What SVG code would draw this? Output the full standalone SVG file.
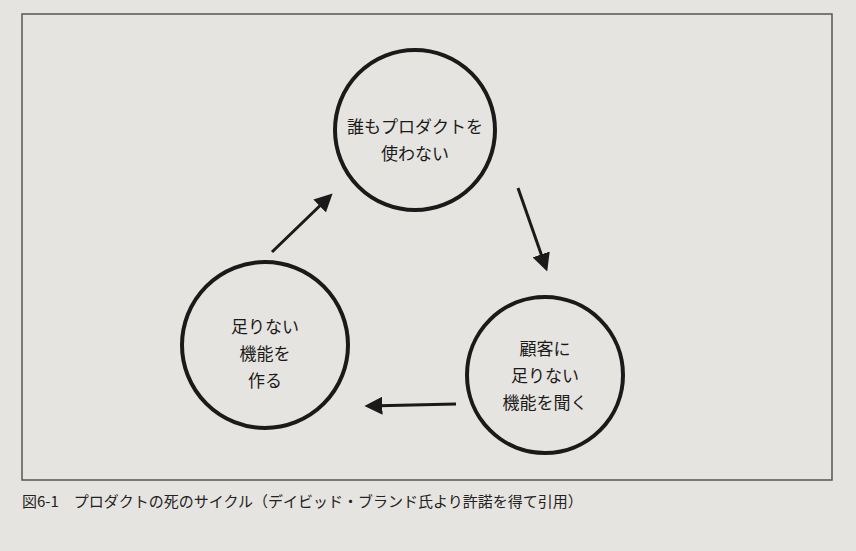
<svg xmlns="http://www.w3.org/2000/svg" width="856" height="551" viewBox="0 0 856 551">
<style>
.c{fill:none;stroke:#1a1a1a;stroke-width:4}
.t{font-family:"Noto Sans CJK JP",sans-serif;font-size:17px;fill:#1a1a1a;text-anchor:middle}
.a{stroke:#1a1a1a;stroke-width:3;fill:none;marker-end:url(#m)}
</style>
<defs><marker id="m" viewBox="0 0 10 10" refX="8" refY="5" markerWidth="6" markerHeight="6" orient="auto"><path d="M0,0L10,5L0,10z" fill="#1a1a1a"/></marker></defs>
<rect width="856" height="551" fill="#e6e4e0"/>
<rect x="22" y="14" width="810" height="466" fill="none" stroke="#555" stroke-width="1.5"/>
<g id="top"><circle class="c" cx="415" cy="130" r="80"/><text class="t" x="415" y="133">誰もプロダクトを</text><text class="t" x="415" y="160">使わない</text></g>
<g id="right"><circle class="c" cx="545" cy="375" r="78"/><text class="t" x="545" y="355">顧客に</text><text class="t" x="545" y="382">足りない</text><text class="t" x="545" y="409">機能を聞く</text></g>
<g id="left"><circle class="c" cx="265" cy="345" r="83"/><text class="t" x="265" y="333">足りない</text><text class="t" x="265" y="360">機能を</text><text class="t" x="265" y="387">作る</text></g>
<g id="connectors">
<path class="a" d="M272,252L330,196"/>
<path class="a" d="M518,188L546,268"/>
<path class="a" d="M456,404L368,406"/>
</g>
<text x="22" y="507" style="font-family:'Noto Sans CJK JP',sans-serif;font-size:15px;fill:#222">図6-1　プロダクトの死のサイクル（デイビッド・ブランド氏より許諾を得て引用）</text>
</svg>
